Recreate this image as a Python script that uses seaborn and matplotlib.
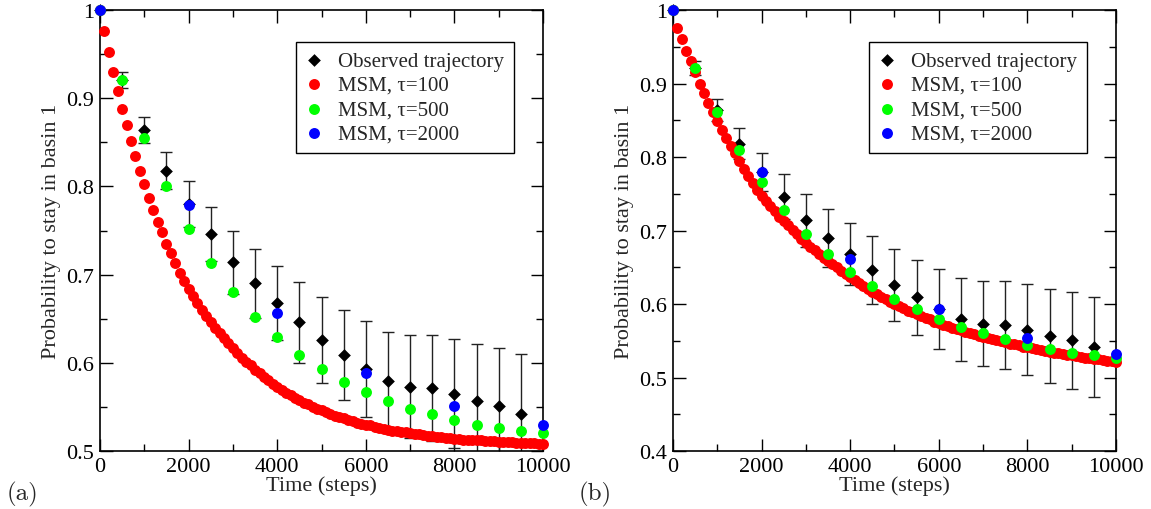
import numpy as np
import pandas as pd
import matplotlib
matplotlib.use("Agg")
import matplotlib.pyplot as plt
import seaborn as sns
from matplotlib.ticker import MultipleLocator, FuncFormatter

# --- dados ---
t_obs = [0, 500, 1000, 1500, 2000, 2500, 3000, 3500, 4000, 4500,
         5000, 5500, 6000, 6500, 7000, 7500, 8000, 8500, 9000, 9500]
p_obs = [1.000, 0.921, 0.864, 0.818, 0.780, 0.746, 0.714, 0.690, 0.668, 0.646,
         0.626, 0.609, 0.593, 0.579, 0.573, 0.571, 0.565, 0.557, 0.551, 0.542]
err_obs = [0.000, 0.009, 0.015, 0.021, 0.026, 0.031, 0.036, 0.039, 0.042, 0.046,
           0.049, 0.051, 0.054, 0.056, 0.058, 0.060, 0.062, 0.064, 0.066, 0.068]

t_100 = list(range(0, 10001, 100))
p100_a = [1.000, 0.976, 0.952, 0.930, 0.908, 0.888, 0.870, 0.851, 0.835, 0.818,
          0.803, 0.787, 0.773, 0.760, 0.748, 0.735, 0.724, 0.713, 0.702, 0.693,
          0.684, 0.676, 0.668, 0.660, 0.653, 0.646, 0.640, 0.634, 0.628, 0.622,
          0.617, 0.611, 0.606, 0.601, 0.597, 0.592, 0.588, 0.584, 0.580, 0.576,
          0.573, 0.569, 0.566, 0.563, 0.560, 0.558, 0.555, 0.553, 0.550, 0.548,
          0.546, 0.544, 0.542, 0.540, 0.539, 0.537, 0.535, 0.534, 0.532, 0.531,
          0.530, 0.529, 0.527, 0.526, 0.525, 0.524, 0.523, 0.523, 0.522, 0.521,
          0.520, 0.519, 0.519, 0.518, 0.517, 0.517, 0.516, 0.516, 0.515, 0.515,
          0.514, 0.514, 0.513, 0.513, 0.512, 0.512, 0.512, 0.511, 0.511, 0.511,
          0.510, 0.510, 0.510, 0.510, 0.509, 0.509, 0.509, 0.509, 0.509, 0.508,
          0.508]
p100_b = [1.000, 0.975, 0.960, 0.944, 0.930, 0.915, 0.900, 0.887, 0.874, 0.861,
          0.849, 0.837, 0.826, 0.815, 0.805, 0.795, 0.784, 0.774, 0.764, 0.755,
          0.747, 0.740, 0.733, 0.726, 0.719, 0.713, 0.707, 0.701, 0.695, 0.689,
          0.683, 0.678, 0.673, 0.668, 0.663, 0.659, 0.654, 0.650, 0.645, 0.641,
          0.637, 0.633, 0.629, 0.625, 0.621, 0.617, 0.614, 0.610, 0.607, 0.603,
          0.600, 0.597, 0.594, 0.591, 0.589, 0.586, 0.584, 0.581, 0.579, 0.576,
          0.574, 0.572, 0.570, 0.568, 0.566, 0.564, 0.562, 0.561, 0.559, 0.557,
          0.555, 0.554, 0.552, 0.551, 0.549, 0.548, 0.546, 0.545, 0.544, 0.542,
          0.541, 0.540, 0.539, 0.537, 0.536, 0.535, 0.534, 0.533, 0.532, 0.531,
          0.530, 0.529, 0.528, 0.527, 0.526, 0.525, 0.525, 0.524, 0.523, 0.522,
          0.521]

t_500 = list(range(0, 10001, 500))
p500_a = [1.000, 0.921, 0.855, 0.800, 0.752, 0.713, 0.680, 0.652, 0.629, 0.609,
          0.593, 0.578, 0.567, 0.557, 0.548, 0.542, 0.535, 0.530, 0.526, 0.523,
          0.520]
p500_b = [1.000, 0.921, 0.861, 0.810, 0.766, 0.728, 0.695, 0.668, 0.644, 0.624,
          0.607, 0.593, 0.579, 0.569, 0.560, 0.552, 0.544, 0.539, 0.534, 0.530,
          0.526]

t_2000 = [0, 2000, 4000, 6000, 8000, 10000]
p2000_a = [1.000, 0.779, 0.657, 0.589, 0.551, 0.530]
p2000_b = [1.000, 0.779, 0.661, 0.593, 0.554, 0.532]

labels = ["Observed trajectory", "MSM, τ=100", "MSM, τ=500", "MSM, τ=2000"]

sns.set_style("ticks")
plt.rcParams["font.family"] = ["Liberation Serif", "DejaVu Serif"]

fig = plt.figure(figsize=(11.51, 5.10), dpi=100)
ax_a = fig.add_axes([0.0869, 0.1137, 0.3849, 0.8647])
ax_b = fig.add_axes([0.5847, 0.1137, 0.3849, 0.8647])


def fmt_y(v, pos):
    if abs(v - 1) < 1e-9:
        return "1"
    return f"{v:.1f}"


def desenha_painel(ax, p100, p500, p2000, ymin, letra, xletra):
    obs = pd.DataFrame({"t": t_obs, "p": p_obs})
    ax.errorbar(t_obs, p_obs, yerr=err_obs, fmt="none", ecolor="#222222",
                elinewidth=1.0, capsize=4.3, capthick=1.0, zorder=1)
    sns.scatterplot(data=obs, x="t", y="p", ax=ax, marker="D", s=42,
                    color="black", linewidth=0, label=labels[0], zorder=2,
                    clip_on=False)
    sns.scatterplot(x=t_100, y=p100, ax=ax, marker="o", s=62,
                    color="#ff0000", linewidth=0, label=labels[1], zorder=3,
                    clip_on=False)
    sns.scatterplot(x=t_500, y=p500, ax=ax, marker="o", s=62,
                    color="#00ff00", linewidth=0, label=labels[2], zorder=4,
                    clip_on=False)
    sns.scatterplot(x=t_2000, y=p2000, ax=ax, marker="o", s=62,
                    color="#0000ff", linewidth=0, label=labels[3], zorder=5,
                    clip_on=False)

    ax.set_xlim(0, 10000)
    ax.set_ylim(ymin, 1.0)
    ax.xaxis.set_major_locator(MultipleLocator(2000))
    ax.xaxis.set_minor_locator(MultipleLocator(1000))
    ax.yaxis.set_major_locator(MultipleLocator(0.1))
    ax.yaxis.set_minor_locator(MultipleLocator(0.05))
    ax.yaxis.set_major_formatter(FuncFormatter(fmt_y))
    ax.tick_params(which="both", direction="in", top=True, right=True,
                   width=1.0, colors="black", labelsize=16)
    ax.tick_params(which="major", length=9, pad=4)
    ax.tick_params(which="minor", length=5)
    for sp in ax.spines.values():
        sp.set_visible(True)
        sp.set_linewidth(1.2)
        sp.set_color("black")

    ax.set_xlabel("Time (steps)", fontsize=16, labelpad=0)
    ax.set_ylabel("Probability to stay in basin 1", fontsize=16, labelpad=4)

    leg = ax.legend(loc="upper right", bbox_to_anchor=(0.934, 0.928),
                    borderaxespad=0, fontsize=15, frameon=True, fancybox=False,
                    framealpha=1, edgecolor="black", handlelength=0.85,
                    handletextpad=0.75, borderpad=0.45, labelspacing=0.22)
    leg.get_frame().set_linewidth(1.0)
    leg.set_zorder(10)

    fig.text(xletra, 0.03, letra, fontsize=18, family=["cmr10", "DejaVu Serif"],
             ha="left", va="center")


desenha_painel(ax_a, p100_a, p500_a, p2000_a, 0.5, "(a)", 0.006)
desenha_painel(ax_b, p100_b, p500_b, p2000_b, 0.4, "(b)", 0.503)

fig.savefig("out.png", dpi=100)
